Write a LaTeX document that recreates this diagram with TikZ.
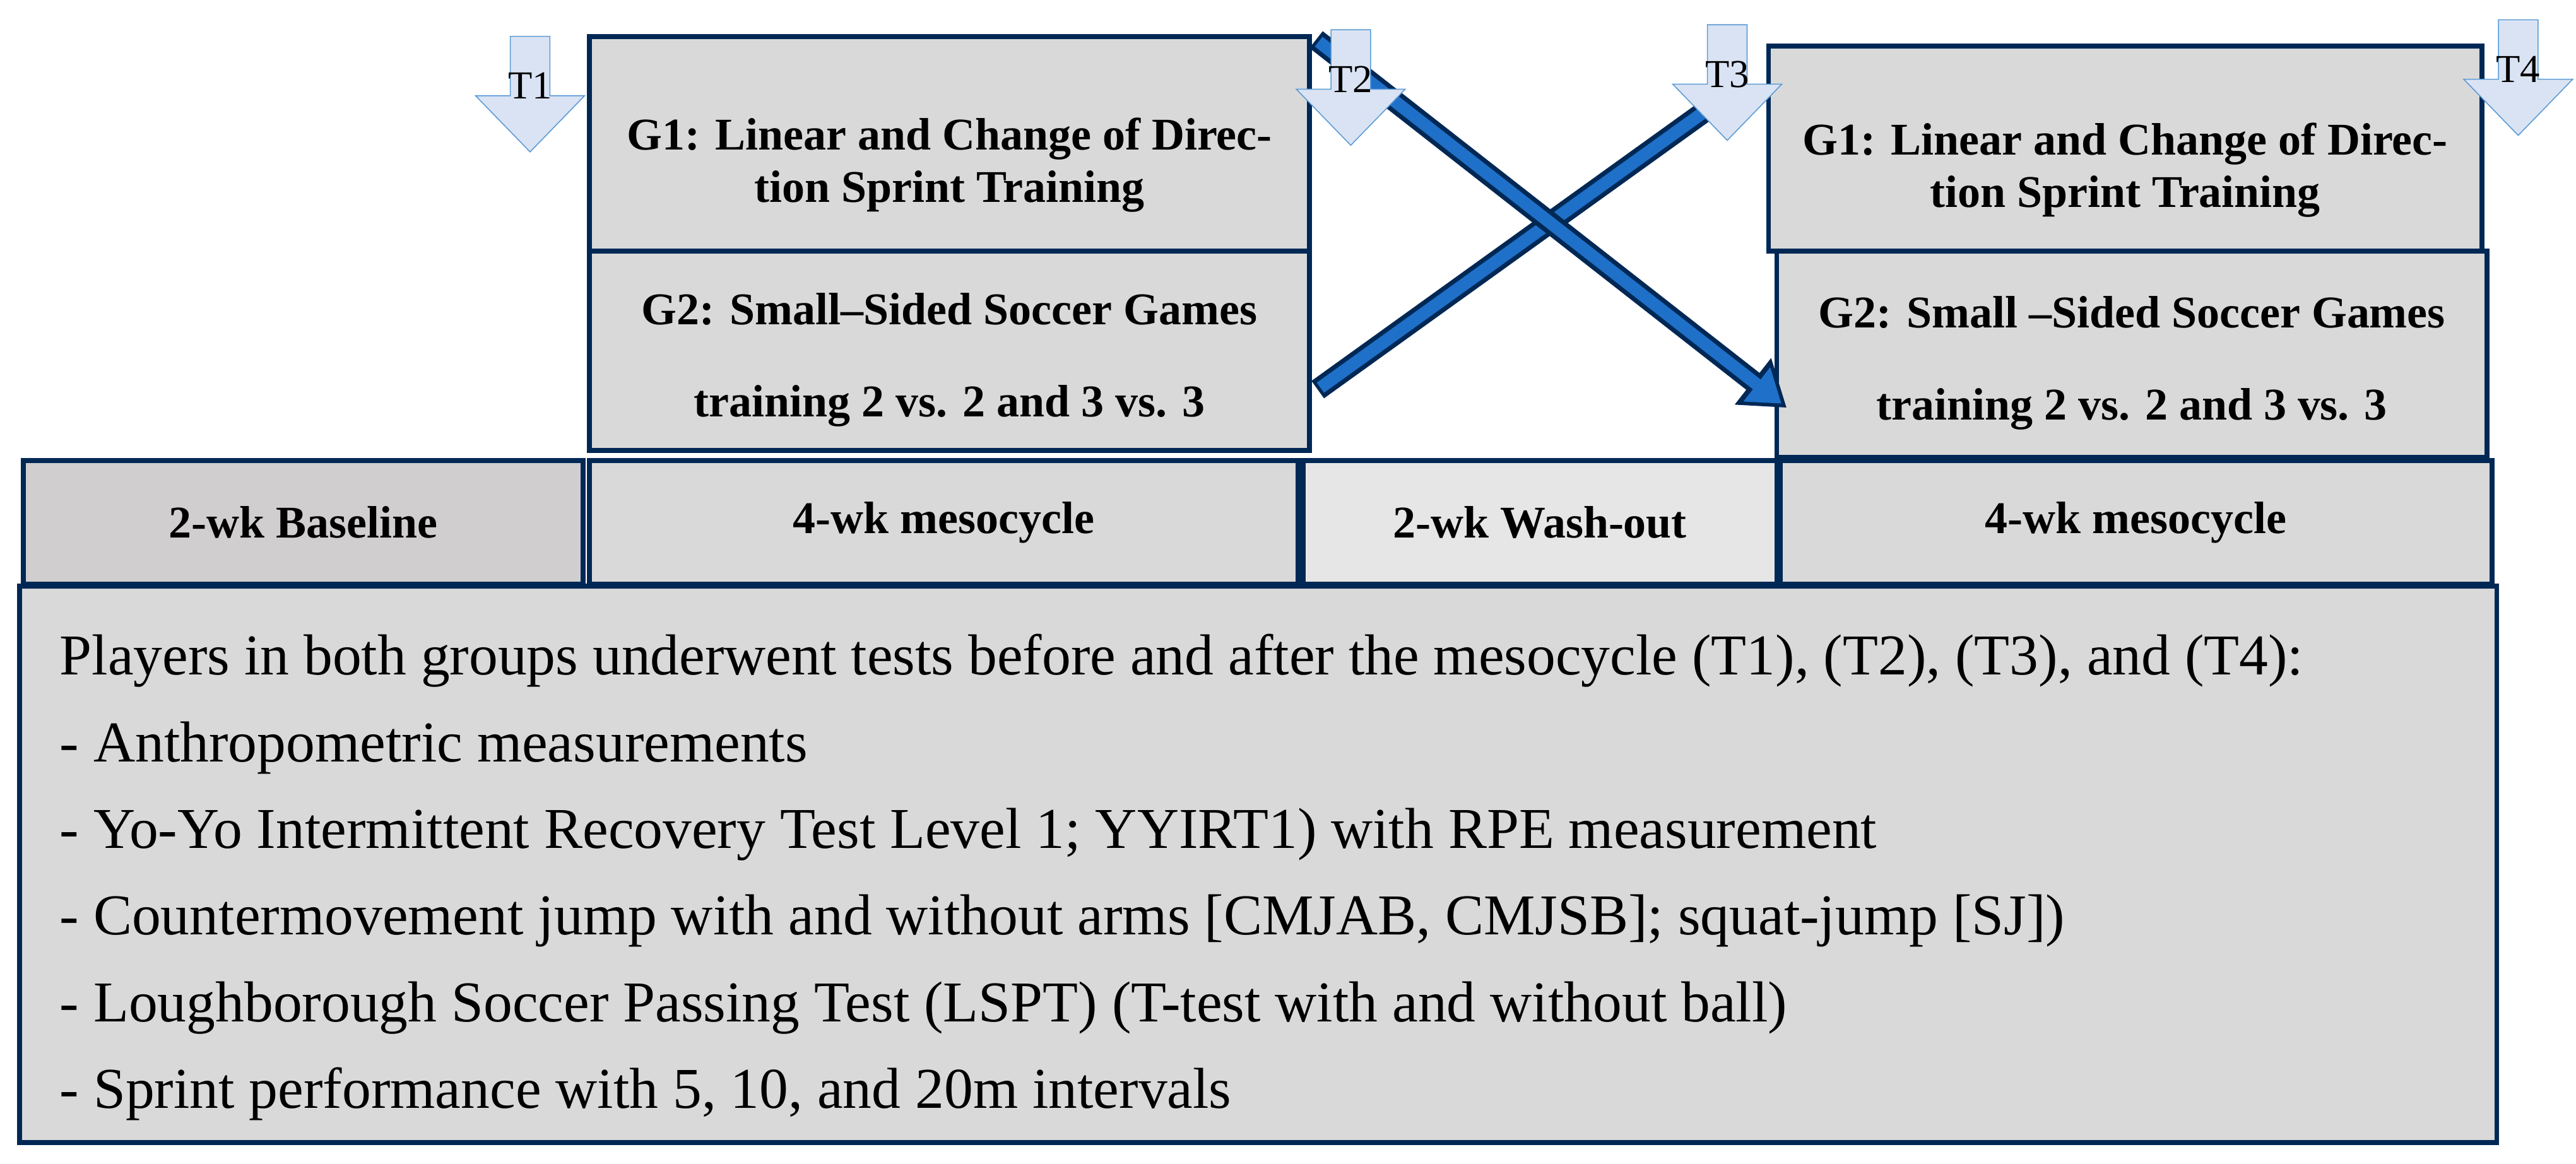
\documentclass[tikz,border=0pt]{standalone}
\usepackage{fontspec}
\setmainfont{Liberation Serif}
\usetikzlibrary{arrows.meta}
\definecolor{navy}{HTML}{002855}
\definecolor{boxg}{HTML}{D9D9D9}
\definecolor{baseg}{HTML}{D0CECE}
\definecolor{washg}{HTML}{E7E6E6}
\definecolor{tfill}{HTML}{DAE3F3}
\definecolor{tline}{HTML}{5B9BD5}
\definecolor{xblue}{HTML}{1F70C8}
\newcommand{\tmarker}[3]{% x, top, name
  \draw[tline,line width=0.6pt,fill=tfill] ({#1-12},#2) -- ({#1+12},#2) -- ({#1+12},{#2+36}) -- ({#1+33},{#2+36}) -- (#1,{#2+70}) -- ({#1-33},{#2+36}) -- ({#1-12},{#2+36}) -- cycle;
  \node[tlab] (#3) at (#1,{#2+30}) {#3};}
\begin{document}
\begin{tikzpicture}[x=1pt,y=-1pt,
  box/.style={draw=navy,line width=3pt,fill=boxg,inner sep=0pt,align=center,font=\bfseries\fontsize{27.5}{32}\selectfont},
  btxt/.style={inner sep=0pt,align=center,font=\bfseries\fontsize{27.5}{#1}\selectfont},
  btxt/.default=32,
  tlab/.style={font=\fontsize{24}{26}\selectfont,inner sep=0pt}]
\useasboundingbox (0,0) rectangle (1560,705);
% upper boxes
\node[box,minimum width=436pt,minimum height=130pt] (g1a) at (575,87) {};
\node[btxt] (g1at) at (575,100) {G1: Linear and Change of Direc-\\tion Sprint Training};
\node[box,minimum width=436pt,minimum height=121pt] (g2a) at (575,212.5) {};
\node[btxt=56] (g2at) at (575,218) {G2: Small–Sided Soccer Games\\training 2 vs. 2 and 3 vs. 3};
\node[box,minimum width=432pt,minimum height=124pt] (g1b) at (1287,90) {};
\node[btxt] (g1bt) at (1287,103) {G1: Linear and Change of Direc-\\tion Sprint Training};
\node[box,minimum width=430pt,minimum height=125pt] (g2b) at (1291,214.5) {};
\node[btxt=56] (g2bt) at (1291,220) {G2: Small –Sided Soccer Games\\training 2 vs. 2 and 3 vs. 3};
% timeline
\node[box,fill=baseg,minimum width=339pt,minimum height=75pt] (base) at (183.5,316.5) {2-wk Baseline};
\node[box,minimum width=429pt,minimum height=75pt] (m1) at (571.5,316.5) {4-wk mesocycle};
\node[box,fill=washg,minimum width=287pt,minimum height=75pt] (wash) at (932.5,316.5) {2-wk Wash-out};
\node[box,minimum width=431pt,minimum height=75pt] (m2) at (1293.5,316.5) {4-wk mesocycle};
% big box
\node[draw=navy,line width=3pt,fill=boxg,minimum width=1500pt,minimum height=337pt] (big) at (762,523.5) {};
\node[anchor=north west,align=left,inner sep=0pt,font=\fontsize{35}{52.5}\selectfont] (txt) at (36,384) {Players in both groups underwent tests before and after the mesocycle (T1), (T2), (T3), and (T4):\\
- Anthropometric measurements\\
- Yo-Yo Intermittent Recovery Test Level 1; YYIRT1) with RPE measurement\\
- Countermovement jump with and without arms [CMJAB, CMJSB]; squat-jump [SJ])\\
- Loughborough Soccer Passing Test (LSPT) (T-test with and without ball)\\
- Sprint performance with 5, 10, and 20m intervals};
% crossing arrows
\coordinate (a1s) at (797,24);
\coordinate (a1e) at (1082,247);
\coordinate (a2s) at (798,236);
\coordinate (a2e) at (1040,62);
\draw[navy,line width=13pt] (a2s) -- (a2e);
\draw[xblue,line width=7.5pt,shorten <=2pt,shorten >=2pt] (a2s) -- (a2e);
\draw[navy,line width=13pt,-{Triangle[length=26pt,width=34pt]}] (a1s) -- (a1e);
\draw[xblue,line width=7.5pt,shorten <=2pt,shorten >=4pt,-{Triangle[length=19pt,width=25pt]}] (a1s) -- (a1e);
% T markers
\tmarker{321}{22}{T1}
\tmarker{818}{18}{T2}
\tmarker{1046}{15}{T3}
\tmarker{1525}{12}{T4}
\end{tikzpicture}
\end{document}
